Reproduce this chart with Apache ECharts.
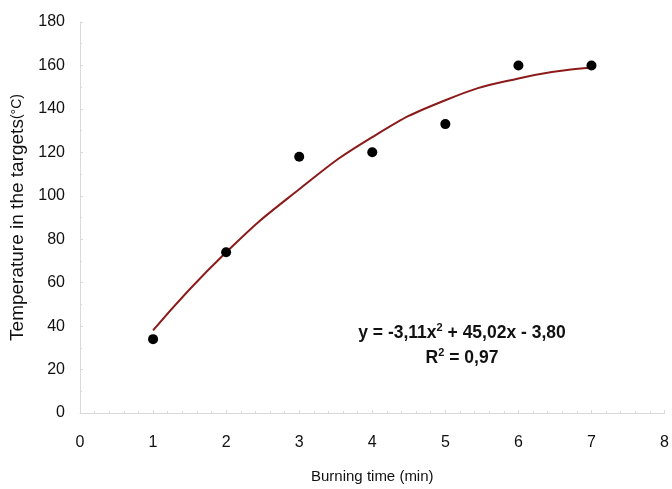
<!DOCTYPE html>
<html>
<head>
<meta charset="utf-8">
<script src="https://cdn.jsdelivr.net/npm/echarts@6/dist/echarts.min.js"></script>
<style>
  html, body { margin: 0; padding: 0; background: #fff; }
  #chart { width: 672px; height: 489px; }
</style>
</head>
<body>
<div id="chart"></div>
<script>
// measured points
const burnTime = [1, 2, 3, 4, 5, 6, 7];
const temperature = [34, 74, 118, 120, 133, 160, 160];
// trend line
const trendTime = [1, 2, 3, 4, 5, 6, 7];
const trendTemp = [38, 74, 103, 127, 144, 154, 159];
const eqText = 'y = -3,11x{s|2} + 45,02x - 3,80';
const r2Text = 'R{s|2} = 0,97';

const myChart = echarts.init(document.getElementById('chart'));
const font = '"Liberation Sans", Arial, sans-serif';
const axisGray = '#d9d9d9';
const supStyle = { font: 'bold 11px ' + font, fill: '#111', verticalAlign: 'top', padding: [0, 0, 10, 0] };

myChart.setOption({
    animation: false,
    grid: { left: 78, right: 5, top: 22, bottom: 71 },
    xAxis: {
        type: 'value', min: 0, max: 8, interval: 1,
        name: 'Burning time (min)', nameLocation: 'middle', nameGap: 56,
        nameTextStyle: { color: '#111', fontSize: 15, fontFamily: font },
        axisLine: { show: true, lineStyle: { color: axisGray } },
        axisTick: { show: true, length: 3, inside: true, lineStyle: { color: axisGray } },
        minorTick: { show: true, splitNumber: 5, length: 2, lineStyle: { color: axisGray } },
        splitLine: { show: false },
        axisLabel: { color: '#111', fontSize: 16, fontFamily: font, margin: 22 }
    },
    yAxis: {
        type: 'value', min: 0, max: 180, interval: 20,
        name: 'Temperature in the targets{u|(°C)}', nameLocation: 'middle', nameGap: 53,
        nameRotate: 90,
        nameTextStyle: {
            color: '#111', fontSize: 19, fontFamily: font,
            rich: { u: { fontSize: 14, fontFamily: font, color: '#111' } }
        },
        axisLine: { show: true, lineStyle: { color: axisGray } },
        axisTick: { show: true, length: 3, inside: true, lineStyle: { color: axisGray } },
        minorTick: { show: true, splitNumber: 2, length: 2, lineStyle: { color: axisGray } },
        splitLine: { show: false },
        axisLabel: { color: '#111', fontSize: 16, fontFamily: font, margin: 15 }
    },
    series: [
        {
            type: 'line',
            data: trendTime.map((x, i) => [x, trendTemp[i]]),
            smooth: true,
            showSymbol: false,
            lineStyle: { color: '#8b1a1a', width: 2 },
            z: 2
        },
        {
            type: 'scatter',
            data: burnTime.map((x, i) => [x, temperature[i]]),
            symbolSize: 10,
            itemStyle: { color: '#000', opacity: 1 },
            z: 3
        }
    ],
    graphic: [
        {
            type: 'text', x: 462, y: 333,
            style: {
                text: eqText, align: 'center', verticalAlign: 'middle',
                font: 'bold 17.5px ' + font, fill: '#111',
                rich: { s: supStyle }
            }
        },
        {
            type: 'text', x: 462, y: 358,
            style: {
                text: r2Text, align: 'center', verticalAlign: 'middle',
                font: 'bold 17.5px ' + font, fill: '#111',
                rich: { s: supStyle }
            }
        }
    ]
});
</script>
</body>
</html>
